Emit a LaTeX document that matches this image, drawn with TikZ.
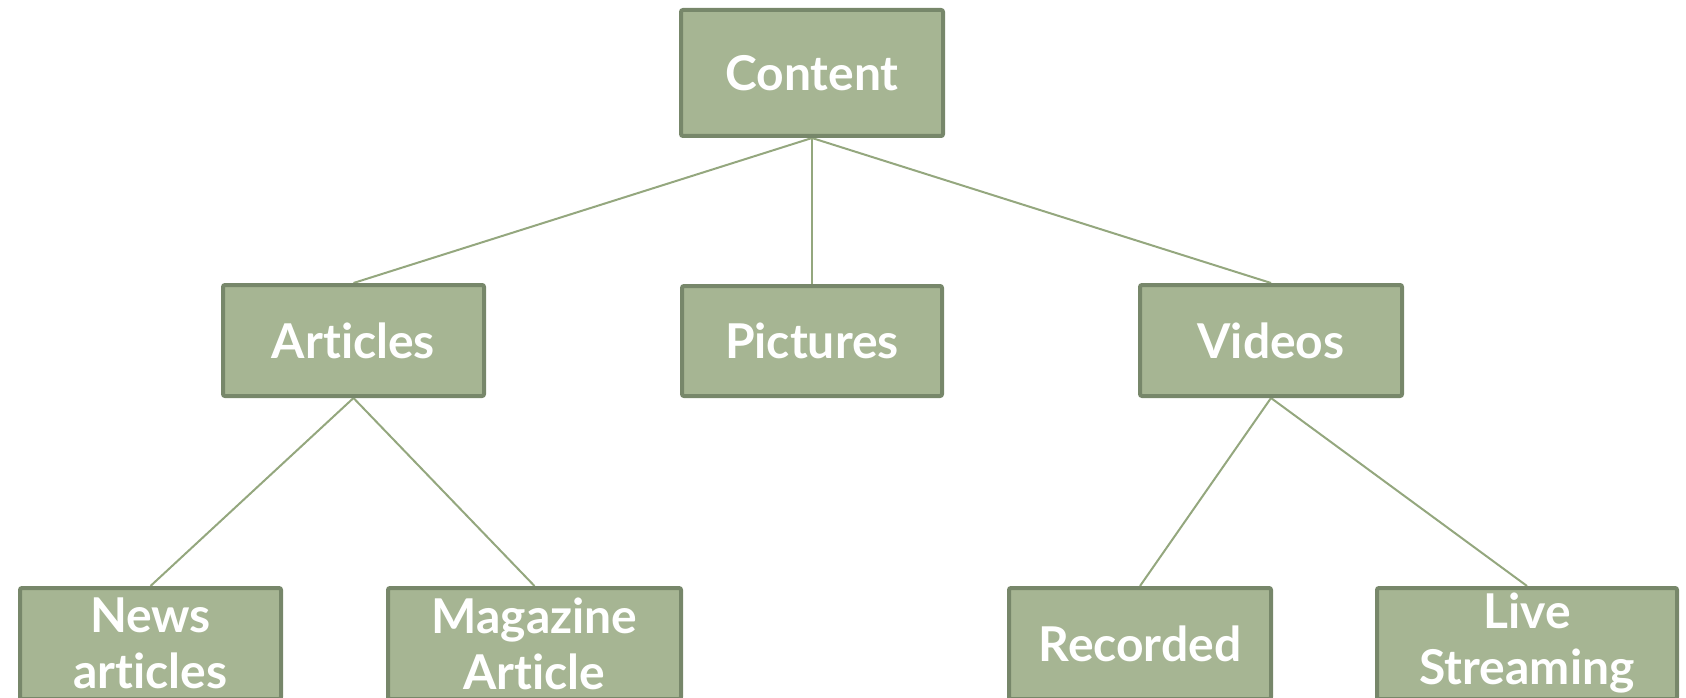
\documentclass[tikz,border=0pt]{standalone}
\usepackage{fontspec}
\setmainfont{Lato}[UprightFont=* Bold, Ligatures=NoCommon]
\usetikzlibrary{backgrounds}
\definecolor{boxfill}{HTML}{A6B593}
\definecolor{boxedge}{HTML}{77876A}
\definecolor{linkcol}{HTML}{94A77E}
\begin{document}
\begin{tikzpicture}[x=1pt,y=-1pt,
  box/.style={draw=boxedge, fill=boxfill, line width=4pt, rounded corners=2pt,
    text=white, align=center, inner sep=0pt,
    font=\fontsize{48}{56}\selectfont},
  link/.style={draw=linkcol, line width=2pt}]
  \useasboundingbox (0,0) rectangle (1686,698);
  % top level
  \node[box, minimum width=262pt, minimum height=126pt] (content) at (812,73) {Content};
  % second level
  \node[box, minimum width=261pt, minimum height=111pt] (articles) at (353.5,340.5) {Articles};
  \node[box, minimum width=260pt, minimum height=110pt] (pictures) at (812,341) {Pictures};
  \node[box, minimum width=262pt, minimum height=111pt] (videos) at (1271,340.5) {Videos};
  % third level
  \node[box, minimum width=261pt, minimum height=111pt] (news) at (150.5,643.5) {News\\articles};
  \node[box, minimum width=293pt, minimum height=111pt] (magazine) at (534.5,643.5) {Magazine\\Article};
  \node[box, minimum width=262pt, minimum height=111pt] (recorded) at (1140,643.5) {Recorded};
  \node[box, minimum width=300pt, minimum height=111pt] (live) at (1527,643.5) {Live\\Streaming};
  % connectors
  \begin{scope}[on background layer]
    \draw[link] (content.south) -- (articles.north);
    \draw[link] (content.south) -- (pictures.north);
    \draw[link] (content.south) -- (videos.north);
    \draw[link] (articles.south) -- (news.north);
    \draw[link] (articles.south) -- (magazine.north);
    \draw[link] (videos.south) -- (recorded.north);
    \draw[link] (videos.south) -- (live.north);
  \end{scope}
\end{tikzpicture}
\end{document}
